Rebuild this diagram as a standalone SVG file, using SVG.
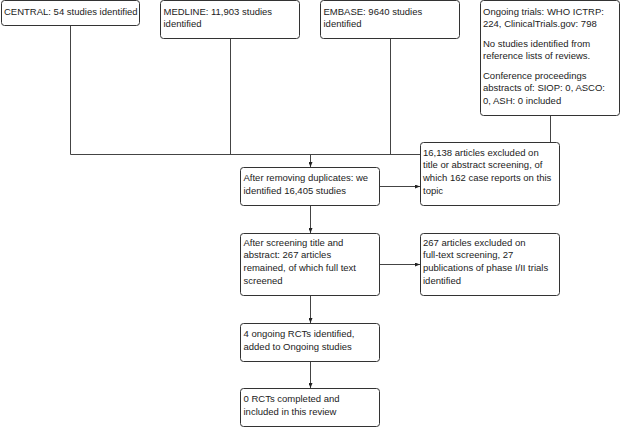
<svg xmlns="http://www.w3.org/2000/svg" width="621" height="427" viewBox="0 0 621 427">
<style>
.box{fill:#fff;stroke:#333;stroke-width:1}
.ln{fill:none;stroke:#444;stroke-width:1}
text{font-family:"Liberation Sans",Arial,sans-serif;font-size:9.5px;fill:#222}
</style>
<defs>
<marker id="ah" markerWidth="5" markerHeight="4" refX="5" refY="2" orient="auto" markerUnits="userSpaceOnUse">
<path d="M0,0 L5,2 L0,4 Z" fill="#222"/>
</marker>
</defs>
<rect width="621" height="427" fill="#fff"/>
<g id="connectors">
<path class="ln" d="M70.5,25 V154.5 H420"/>
<path class="ln" d="M230.5,38 V154.5"/>
<path class="ln" d="M390.5,38 V154.5"/>
<path class="ln" d="M550.5,115 V142"/>
<path class="ln" d="M310.5,154.5 V167" marker-end="url(#ah)"/>
<path class="ln" d="M379,186.5 H420" marker-end="url(#ah)"/>
<path class="ln" d="M310.5,205 V233" marker-end="url(#ah)"/>
<path class="ln" d="M379,264.5 H420" marker-end="url(#ah)"/>
<path class="ln" d="M310.5,296 V323" marker-end="url(#ah)"/>
<path class="ln" d="M310.5,361 V388" marker-end="url(#ah)"/>
</g>
<g id="central">
<rect class="box" x="1.5" y="0.5" width="138" height="25" rx="3"/>
<text x="4" y="14.5">CENTRAL: 54 studies identified</text>
</g>
<g id="medline">
<rect class="box" x="160.5" y="0.5" width="139" height="38" rx="3"/>
<text x="163.5" y="14.5">MEDLINE: 11,903 studies</text>
<text x="163.5" y="27">identified</text>
</g>
<g id="embase">
<rect class="box" x="320.5" y="0.5" width="139" height="38" rx="3"/>
<text x="323.5" y="14.5">EMBASE: 9640 studies</text>
<text x="323.5" y="27">identified</text>
</g>
<g id="ongoing">
<rect class="box" x="480.5" y="0.5" width="139" height="115" rx="3"/>
<text x="483" y="14.5">Ongoing trials: WHO ICTRP:</text>
<text x="483" y="27">224, ClinicalTrials.gov: 798</text>
<text x="483" y="46.5">No studies identified from</text>
<text x="483" y="59">reference lists of reviews.</text>
<text x="483" y="78.5">Conference proceedings</text>
<text x="483" y="91">abstracts of: SIOP: 0, ASCO:</text>
<text x="483" y="103.5">0, ASH: 0 included</text>
</g>
<g id="excluded1">
<rect class="box" x="420.5" y="142.5" width="139" height="63" rx="3"/>
<text x="423" y="155.8">16,138 articles excluded on</text>
<text x="423" y="168.4">title or abstract screening, of</text>
<text x="423" y="181">which 162 case reports on this</text>
<text x="423" y="193.6">topic</text>
</g>
<g id="dedup">
<rect class="box" x="240.5" y="167.5" width="139" height="38" rx="3"/>
<text x="243.5" y="181.4">After removing duplicates: we</text>
<text x="243.5" y="194">identified 16,405 studies</text>
</g>
<g id="screened">
<rect class="box" x="240.5" y="233.5" width="139" height="62" rx="3"/>
<text x="243.5" y="245.8">After screening title and</text>
<text x="243.5" y="258.4">abstract: 267 articles</text>
<text x="243.5" y="271">remained, of which full text</text>
<text x="243.5" y="283.6">screened</text>
</g>
<g id="excluded2">
<rect class="box" x="420.5" y="233.5" width="139" height="62" rx="3"/>
<text x="423" y="245.8">267 articles excluded on</text>
<text x="423" y="258.4">full-text screening, 27</text>
<text x="423" y="271">publications of phase I/II trials</text>
<text x="423" y="283.6">identified</text>
</g>
<g id="ongoingrcts">
<rect class="box" x="240.5" y="323.5" width="139" height="38" rx="3"/>
<text x="243.5" y="337.3">4 ongoing RCTs identified,</text>
<text x="243.5" y="349.9">added to Ongoing studies</text>
</g>
<g id="included">
<rect class="box" x="240.5" y="388.5" width="139" height="38" rx="3"/>
<text x="243.5" y="402.3">0 RCTs completed and</text>
<text x="243.5" y="414.9">included in this review</text>
</g>
</svg>
